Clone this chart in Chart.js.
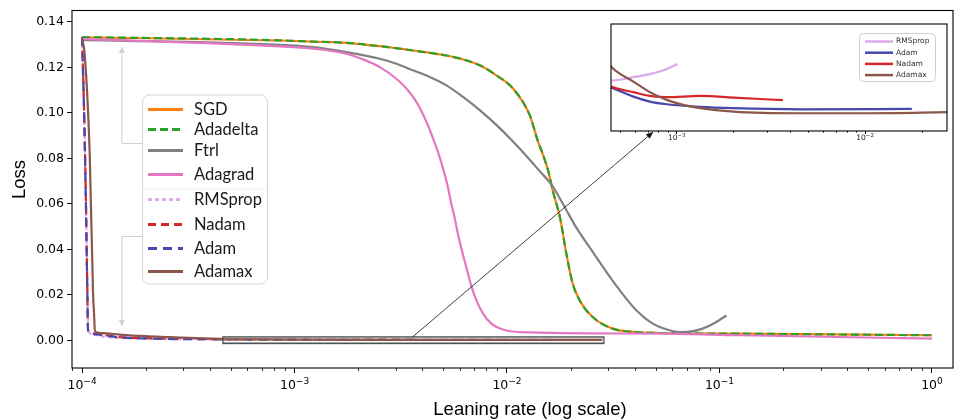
<!DOCTYPE html>
<html>
<head>
<meta charset="utf-8">
<script src="https://cdn.jsdelivr.net/npm/chart.js@4.4.0/dist/chart.umd.min.js"></script>
<style>
  html, body { margin: 0; padding: 0; background: #fff; }
  #wrap { position: relative; width: 956px; height: 420px; }
  #wrap canvas { position: absolute; left: 0; top: 0; }
  #insetChart { pointer-events: none; }
</style>
</head>
<body>
<div id="wrap">
  <canvas id="mainChart" width="956" height="420"></canvas>
  <canvas id="insetChart" width="956" height="420"></canvas>
</div>
<script>
// ---- data ----
const sgdLr = [1e-4, 8.52e-4, 1.222e-3, 1.754e-3, 2.518e-3, 3.61e-3, 5.19e-3, 6.21e-3, 7.44e-3, 8.91e-3, 1.067e-2, 1.279e-2, 1.399e-2, 1.477e-2, 1.565e-2, 1.645e-2, 1.777e-2, 1.904e-2, 2.04e-2, 2.20e-2, 2.53e-2, 3.14e-2, 4.07e-2, 5.22e-2, 0.1245, 1.0];
const sgdLoss = [0.1332, 0.1318, 0.1313, 0.1308, 0.1293, 0.1274, 0.1252, 0.1235, 0.1209, 0.1165, 0.1107, 0.0990, 0.0874, 0.0816, 0.0743, 0.0655, 0.0539, 0.0379, 0.0248, 0.0175, 0.0102, 0.0051, 0.0036, 0.0032, 0.0029, 0.0022];
const adadeltaLr = sgdLr;
const adadeltaLoss = [0.1333, 0.1319, 0.1313, 0.1308, 0.1293, 0.1274, 0.1252, 0.1235, 0.1209, 0.1165, 0.1107, 0.0990, 0.0874, 0.0816, 0.0743, 0.0655, 0.0539, 0.0379, 0.0248, 0.0175, 0.0102, 0.0051, 0.0036, 0.0032, 0.0029, 0.0022];

const ftrlLr = [1e-4, 8.52e-4, 1.222e-3, 1.754e-3, 2.518e-3, 3.017e-3, 3.61e-3, 4.33e-3, 5.19e-3, 6.21e-3, 7.44e-3, 8.91e-3, 1.067e-2, 1.279e-2, 1.426e-2, 1.618e-2, 1.84e-2, 2.12e-2, 2.45e-2, 3.14e-2, 4.07e-2, 4.85e-2, 5.71e-2, 6.50e-2, 7.40e-2, 8.33e-2, 9.49e-2, 0.1079];
const ftrlLoss = [0.1321, 0.1299, 0.1289, 0.1267, 0.1238, 0.1216, 0.1187, 0.1158, 0.1121, 0.1070, 0.1012, 0.0947, 0.0874, 0.0794, 0.0743, 0.0685, 0.0597, 0.0495, 0.0408, 0.0262, 0.0131, 0.0073, 0.0046, 0.0036, 0.0039, 0.0051, 0.0076, 0.0109];

const adagradLr = [1e-4, 8.52e-4, 1.222e-3, 1.754e-3, 2.101e-3, 2.518e-3, 3.017e-3, 3.362e-3, 3.746e-3, 4.175e-3, 4.486e-3, 4.82e-3, 5.22e-3, 5.48e-3, 5.67e-3, 5.88e-3, 6.14e-3, 6.44e-3, 6.75e-3, 7.18e-3, 7.71e-3, 8.44e-3, 9.57e-3, 1.148e-2, 5.22e-2, 0.1245, 1.0];
const adagradLoss = [0.1325, 0.1292, 0.1282, 0.1260, 0.1235, 0.1201, 0.1150, 0.1107, 0.1048, 0.0961, 0.0888, 0.0805, 0.0690, 0.0597, 0.0539, 0.0466, 0.0393, 0.0320, 0.0248, 0.0175, 0.0117, 0.0073, 0.0047, 0.0036, 0.0029, 0.0022, 0.0007];

const rmspropLr = [1e-4, 1.02e-4, 1.04e-4, 1.058e-4, 1.068e-4, 1.12e-4, 1.3e-4, 1.6e-4, 2.2e-4, 3.2e-4, 4.48e-4, 5.89e-4, 7.21e-4, 8.67e-4, 1.01e-3];
const rmspropLoss = [0.1332, 0.106, 0.069, 0.026, 0.0046, 0.0025, 0.0014, 0.0009, 0.0006, 0.0005, 0.000471, 0.000503, 0.000531, 0.000572, 0.000625];

const nadamLr = [1e-4, 1.02e-4, 1.04e-4, 1.058e-4, 1.068e-4, 1.13e-4, 1.5e-4, 2.0e-4, 3.0e-4, 4.48e-4, 5.89e-4, 7.21e-4, 8.85e-4, 1.33e-3, 2.0e-3, 3.66e-3];
const nadamLoss = [0.1332, 0.105, 0.068, 0.025, 0.0044, 0.0029, 0.0014, 0.0009, 0.0006, 0.000415, 0.000363, 0.000328, 0.000316, 0.000328, 0.000312, 0.000288];

const adamLr = [1e-4, 1.02e-4, 1.04e-4, 1.058e-4, 1.068e-4, 1.13e-4, 1.5e-4, 2.0e-4, 3.0e-4, 4.48e-4, 5.89e-4, 7.21e-4, 8.85e-4, 1.33e-3, 2.0e-3, 4.52e-3, 1.77e-2];
const adamLoss = [0.1332, 0.104, 0.066, 0.024, 0.0042, 0.0027, 0.0013, 0.0008, 0.0005, 0.000406, 0.000321, 0.000275, 0.000250, 0.000225, 0.000213, 0.000203, 0.000206];

const adamaxLr = [1e-4, 1.03e-4, 1.087e-4, 1.127e-4, 1.14e-4, 1.15e-4, 1.25e-4, 1.5e-4, 2.0e-4, 2.59e-4, 3.5e-4, 4.48e-4, 5.89e-4, 7.21e-4, 8.85e-4, 1.084e-3, 1.33e-3, 2.0e-3, 4.52e-3, 1.02e-2, 2.8e-2];
const adamaxLoss = [0.1332, 0.1253, 0.0816, 0.0204, 0.011, 0.0038, 0.0031, 0.0025, 0.0018, 0.0014, 0.0009, 0.000603, 0.000462, 0.000363, 0.000291, 0.000244, 0.000213, 0.000181, 0.000166, 0.000166, 0.000176];

const xMajor = [1e-4, 1e-3, 1e-2, 1e-1, 1];
const xExponents = ['\u22124', '\u22123', '\u22122', '\u22121', '0'];
const yTicks = [0, 0.02, 0.04, 0.06, 0.08, 0.10, 0.12, 0.14];
const insetMajor = [1e-3, 1e-2];
const insetExponents = ['\u22123', '\u22122'];

// axis limits
const xMin = 8.97e-5, xMax = 1.256;
const yMin = -0.0122, yMax = 0.145;
const rectLr = [4.6e-4, 2.86e-2];      // zoom box in main axes
const rectLoss = [-0.0015, 0.0015];
const insetLr = [4.48e-4, 2.72e-2];    // inset x limits
const insetLoss = [0, 0.001];          // inset y limits

document.addEventListener('DOMContentLoaded', function() {
  const series = {
    SGD: [sgdLr, sgdLoss], Adadelta: [adadeltaLr, adadeltaLoss], Ftrl: [ftrlLr, ftrlLoss],
    Adagrad: [adagradLr, adagradLoss], RMSprop: [rmspropLr, rmspropLoss], Nadam: [nadamLr, nadamLoss],
    Adam: [adamLr, adamLoss], Adamax: [adamaxLr, adamaxLoss]
  };
  const style = {
    SGD: { color: '#ff7f0e', dash: [] },
    Adadelta: { color: '#2ca02c', dash: [8, 4] },
    Ftrl: { color: '#808080', dash: [] },
    Adagrad: { color: '#e377c2', dash: [] },
    RMSprop: { color: '#d9a9ec', dash: [4, 3] },
    Nadam: { color: '#d62728', dash: [8, 5] },
    Adam: { color: '#4747ad', dash: [9, 6] },
    Adamax: { color: '#8c564b', dash: [] }
  };
  const mainOrder = ['SGD', 'Adadelta', 'Ftrl', 'Adagrad', 'RMSprop', 'Nadam', 'Adam', 'Adamax'];
  const insetOrder = ['RMSprop', 'Adam', 'Nadam', 'Adamax'];

  function pts(name) {
    const [lr, loss] = series[name];
    return lr.map((x, i) => ({ x: x, y: loss[i] }));
  }

  function minorTicks(min, max) {
    const out = [];
    for (let e = -6; e <= 1; e++) {
      for (let m = 2; m <= 9; m++) {
        const v = m * Math.pow(10, e);
        if (v > min && v < max) out.push(v);
      }
    }
    return out;
  }

  function drawMinor(ctx, scale, min, max, len) {
    ctx.save();
    ctx.strokeStyle = '#000';
    ctx.lineWidth = 0.8;
    minorTicks(min, max).forEach(v => {
      const px = Math.round(scale.getPixelForValue(v)) + 0.5;
      ctx.beginPath();
      ctx.moveTo(px, scale.top);
      ctx.lineTo(px, scale.top + len);
      ctx.stroke();
    });
    ctx.restore();
  }

  // "10" with a raised exponent, centred on each major tick
  function drawPowerLabels(ctx, scale, majors, exps, base, small, baseline, raise, color) {
    ctx.save();
    ctx.fillStyle = color;
    ctx.textBaseline = 'alphabetic';
    ctx.textAlign = 'left';
    majors.forEach((v, i) => {
      const cx = scale.getPixelForValue(v);
      ctx.font = base + 'px "DejaVu Sans", sans-serif';
      const w1 = ctx.measureText('10').width;
      ctx.font = small + 'px "DejaVu Sans", sans-serif';
      const w2 = ctx.measureText(exps[i]).width;
      const x0 = cx - (w1 + w2) / 2;
      ctx.font = base + 'px "DejaVu Sans", sans-serif';
      ctx.fillText('10', x0, baseline);
      ctx.font = small + 'px "DejaVu Sans", sans-serif';
      ctx.fillText(exps[i], x0 + w1, baseline - raise);
    });
    ctx.restore();
  }

  function arrowHead(ctx, x0, y0, x1, y1, len, wid) {
    const a = Math.atan2(y1 - y0, x1 - x0);
    ctx.beginPath();
    ctx.moveTo(x1, y1);
    ctx.lineTo(x1 - len * Math.cos(a) + wid * Math.sin(a), y1 - len * Math.sin(a) - wid * Math.cos(a));
    ctx.lineTo(x1 - len * Math.cos(a) - wid * Math.sin(a), y1 - len * Math.sin(a) + wid * Math.cos(a));
    ctx.closePath();
    ctx.fill();
  }

  const mainDecor = {
    id: 'mainDecor',
    afterDraw(chart) {
      const ctx = chart.ctx;
      const ca = chart.chartArea;
      const sx = chart.scales.x, sy = chart.scales.y;

      // zoom rectangle
      const rx0 = sx.getPixelForValue(rectLr[0]), rx1 = sx.getPixelForValue(rectLr[1]);
      const ry0 = sy.getPixelForValue(rectLoss[1]), ry1 = sy.getPixelForValue(rectLoss[0]);
      ctx.save();
      ctx.strokeStyle = '#999';
      ctx.lineWidth = 1;
      ctx.strokeRect(rx0 + 1, ry0 + 1, rx1 - rx0 - 2, ry1 - ry0 - 2);
      ctx.strokeStyle = '#333';
      ctx.strokeRect(rx0, ry0, rx1 - rx0, ry1 - ry0);
      ctx.restore();

      // frame
      ctx.save();
      ctx.strokeStyle = '#000';
      ctx.lineWidth = 1.1;
      ctx.strokeRect(ca.left, ca.top, ca.right - ca.left, ca.bottom - ca.top);
      ctx.restore();
      drawMinor(ctx, sx, xMin, xMax, 3);
      drawPowerLabels(ctx, sx, xMajor, xExponents, 12.5, 9, ca.bottom + 21, 5.5, '#000');

      // axis titles
      ctx.save();
      ctx.fillStyle = '#000';
      ctx.font = '18.5px "Liberation Sans", Arial, sans-serif';
      ctx.textAlign = 'center';
      ctx.textBaseline = 'alphabetic';
      ctx.fillText('Leaning rate (log scale)', ca.left + 458, ca.bottom + 47);
      ctx.translate(ca.left - 47, ca.top + 169);
      ctx.rotate(-Math.PI / 2);
      ctx.fillText('Loss', 0, 0);
      ctx.restore();

      // bracket arrows beside the legend
      const lx = ca.left + 70, ly = ca.top + 84, lw = 125, lh = 189;
      const annX = sx.getPixelForValue(1.54e-4);
      ctx.save();
      ctx.strokeStyle = '#d0d0d0';
      ctx.fillStyle = '#d0d0d0';
      ctx.lineWidth = 1;
      ctx.beginPath();
      ctx.moveTo(lx, ly + 49); ctx.lineTo(annX, ly + 49); ctx.lineTo(annX, sy.getPixelForValue(0.1289));
      ctx.stroke();
      arrowHead(ctx, annX, ly + 49, annX, sy.getPixelForValue(0.1289), 6, 3);
      ctx.beginPath();
      ctx.moveTo(lx, ly + 142); ctx.lineTo(annX, ly + 142); ctx.lineTo(annX, sy.getPixelForValue(0.0063));
      ctx.stroke();
      arrowHead(ctx, annX, ly + 142, annX, sy.getPixelForValue(0.0063), 6, 3);
      ctx.restore();

      // legend
      ctx.save();
      ctx.beginPath();
      ctx.roundRect(lx + 0.5, ly + 0.5, lw, lh, 7);
      ctx.fillStyle = 'rgba(255,255,255,0.85)';
      ctx.fill();
      ctx.strokeStyle = '#d4d4d4';
      ctx.lineWidth = 1;
      ctx.stroke();
      ctx.beginPath();
      ctx.moveTo(lx + 1, ly + 94.5);
      ctx.lineTo(lx + lw, ly + 94.5);
      ctx.strokeStyle = '#ececec';
      ctx.stroke();
      const rows = [15, 35, 56, 80, 105, 130, 154, 177];
      ctx.font = '16.5px Lato, "Open Sans", sans-serif';
      ctx.textBaseline = 'middle';
      mainOrder.forEach((name, i) => {
        const y = ly + rows[i];
        ctx.beginPath();
        ctx.setLineDash(style[name].dash);
        ctx.strokeStyle = style[name].color;
        ctx.lineWidth = 3;
        ctx.moveTo(lx + 6, y);
        ctx.lineTo(lx + 41, y);
        ctx.stroke();
        ctx.setLineDash([]);
        ctx.fillStyle = '#1a1a1a';
        ctx.fillText(name, lx + 52, y);
      });
      ctx.restore();
    }
  };

  const mainChart = new Chart(document.getElementById('mainChart').getContext('2d'), {
    type: 'line',
    data: {
      datasets: mainOrder.map((name, i) => ({
        label: name,
        data: pts(name),
        borderColor: style[name].color,
        borderDash: style[name].dash,
        borderWidth: 2.2,
        pointRadius: 0,
        fill: false,
        cubicInterpolationMode: 'monotone',
        order: -i
      }))
    },
    options: {
      responsive: false,
      animation: false,
      layout: { padding: { top: 8, right: 3, left: 0, bottom: 0 } },
      plugins: { legend: { display: false }, tooltip: { enabled: false } },
      scales: {
        x: {
          type: 'logarithmic', min: xMin, max: xMax,
          afterBuildTicks: s => { s.ticks = xMajor.map(v => ({ value: v, major: true })); },
          afterFit: s => { s.height = 52; },
          ticks: { display: false, autoSkip: false },
          grid: { drawOnChartArea: false, drawTicks: true, tickLength: 5, tickColor: '#000', tickWidth: 1 },
          border: { display: false }
        },
        y: {
          type: 'linear', min: yMin, max: yMax,
          afterBuildTicks: s => { s.ticks = yTicks.map(v => ({ value: v })); },
          afterFit: s => { s.width = 72; },
          ticks: {
            padding: 3, color: '#000',
            font: { family: 'DejaVu Sans', size: 12.5 },
            callback: v => v.toFixed(2)
          },
          grid: { drawOnChartArea: false, drawTicks: true, tickLength: 5, tickColor: '#000', tickWidth: 1 },
          border: { display: false }
        }
      }
    },
    plugins: [mainDecor]
  });

  const insetDecor = {
    id: 'insetDecor',
    beforeDraw(chart) {
      const ca = chart.chartArea;
      chart.ctx.save();
      chart.ctx.fillStyle = '#fff';
      chart.ctx.fillRect(ca.left, ca.top, ca.right - ca.left, ca.bottom - ca.top);
      chart.ctx.restore();
    },
    afterDraw(chart) {
      const ctx = chart.ctx;
      const ca = chart.chartArea;
      const sx = chart.scales.x;
      ctx.save();
      ctx.strokeStyle = '#000';
      ctx.lineWidth = 1.1;
      ctx.strokeRect(ca.left, ca.top, ca.right - ca.left, ca.bottom - ca.top);
      ctx.restore();
      drawMinor(ctx, sx, insetLr[0], insetLr[1], 1.8);
      drawPowerLabels(ctx, sx, insetMajor, insetExponents, 7.5, 5.5, ca.bottom + 9, 3, '#222');

      // connector arrow from zoom box to inset
      const mx = mainChart.scales.x, my = mainChart.scales.y;
      const x0 = mx.getPixelForValue(3.6e-3), y0 = my.getPixelForValue(rectLoss[1]);
      const x1 = sx.getPixelForValue(7.5e-4), y1 = ca.bottom + 1;
      ctx.save();
      ctx.strokeStyle = '#111';
      ctx.fillStyle = '#111';
      ctx.lineWidth = 0.8;
      ctx.beginPath();
      ctx.moveTo(x0, y0);
      ctx.lineTo(x1, y1);
      ctx.stroke();
      arrowHead(ctx, x0, y0, x1, y1, 7, 3);
      ctx.restore();

      // inset legend
      const lw = 76, lh = 48;
      const lx = ca.right - 12 - lw, ly = ca.top + 9;
      ctx.save();
      ctx.beginPath();
      ctx.roundRect(lx + 0.5, ly + 0.5, lw, lh, 4);
      ctx.fillStyle = 'rgba(255,255,255,0.85)';
      ctx.fill();
      ctx.strokeStyle = '#d0d0d0';
      ctx.lineWidth = 1;
      ctx.stroke();
      ctx.font = '7.5px "DejaVu Sans", sans-serif';
      ctx.textBaseline = 'middle';
      insetOrder.forEach((name, i) => {
        const y = ly + 8.5 + i * 11.2;
        ctx.beginPath();
        ctx.strokeStyle = style[name].color;
        ctx.lineWidth = 2.5;
        ctx.moveTo(lx + 6, y);
        ctx.lineTo(lx + 34, y);
        ctx.stroke();
        ctx.fillStyle = '#333';
        ctx.fillText(name, lx + 37, y);
      });
      ctx.restore();
    }
  };

  new Chart(document.getElementById('insetChart').getContext('2d'), {
    type: 'line',
    data: {
      datasets: insetOrder.map((name, i) => ({
        label: name,
        data: pts(name),
        borderColor: style[name].color,
        borderWidth: 2.2,
        pointRadius: 0,
        fill: false,
        cubicInterpolationMode: 'monotone',
        order: -i
      }))
    },
    options: {
      responsive: false,
      animation: false,
      layout: { padding: { left: 611, top: 24, right: 9, bottom: 275 } },
      plugins: { legend: { display: false }, tooltip: { enabled: false } },
      scales: {
        x: {
          type: 'logarithmic', min: insetLr[0], max: insetLr[1],
          afterBuildTicks: s => { s.ticks = insetMajor.map(v => ({ value: v, major: true })); },
          afterFit: s => { s.height = 14; },
          ticks: { display: false, autoSkip: false },
          grid: { drawOnChartArea: false, drawTicks: true, tickLength: 3, tickColor: '#000', tickWidth: 1 },
          border: { display: false }
        },
        y: { type: 'linear', display: false, min: insetLoss[0], max: insetLoss[1] }
      }
    },
    plugins: [insetDecor]
  });
});
</script>
</body>
</html>
